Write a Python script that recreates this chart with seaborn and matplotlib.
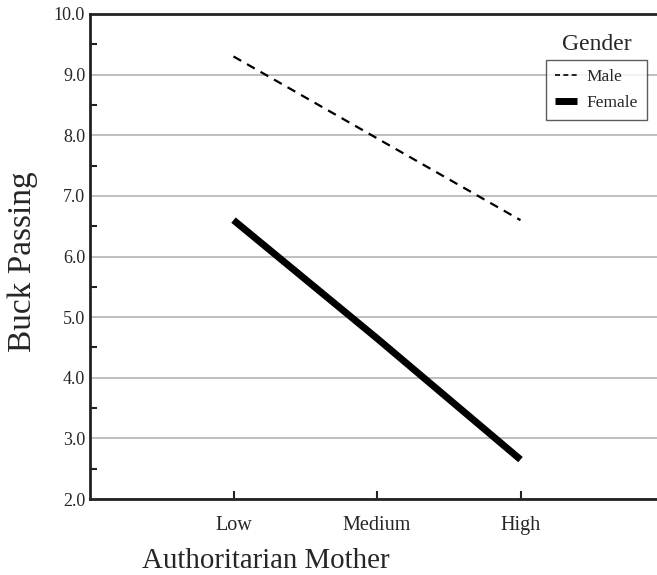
import matplotlib
matplotlib.use("Agg")
import matplotlib.pyplot as plt
import seaborn as sns
import pandas as pd
from matplotlib.ticker import MultipleLocator
from matplotlib.lines import Line2D

# Data: mean buck passing by mother's authoritarianism level and gender
levels = ["Low", "Medium", "High"]
male = [9.3, 7.95, 6.6]
female = [6.6, 4.65, 2.65]
y_ticks = [2.0, 3.0, 4.0, 5.0, 6.0, 7.0, 8.0, 9.0, 10.0]

df = pd.DataFrame({
    "level": list(range(len(levels))) * 2,
    "value": male + female,
    "Gender": ["Male"] * len(levels) + ["Female"] * len(levels),
})

sns.set_style("white")
plt.rcParams["font.family"] = ["Liberation Serif", "DejaVu Serif"]

fig = plt.figure(figsize=(6.57, 5.75), dpi=100)
ax = fig.add_axes([90 / 657, 1 - 499 / 575, (664 - 90) / 657, (499 - 14) / 575])

sns.lineplot(
    data=df, x="level", y="value", hue="Gender", style="Gender",
    palette={"Male": "black", "Female": "black"},
    dashes={"Male": (4, 3), "Female": ""},
    size="Gender", sizes={"Male": 1.6, "Female": 5.0},
    legend=False, ax=ax,
)
for line in ax.get_lines():
    line.set_solid_capstyle("butt")
    line.set_dash_capstyle("butt")

ax.set_xlim(-1, 3)
ax.set_ylim(2, 10)
ax.set_xticks(range(len(levels)))
ax.set_xticklabels(levels, fontsize=14.5)
ax.set_yticks(y_ticks)
ax.set_yticklabels([f"{v:.1f}" for v in y_ticks], fontsize=13)
ax.yaxis.set_minor_locator(MultipleLocator(0.5))

ax.grid(axis="y", which="major", color="#b4b4b4", linewidth=1.2, zorder=0)
ax.set_axisbelow(True)

ax.tick_params(axis="y", which="major", direction="in", length=0, pad=3.5)
ax.tick_params(axis="y", which="minor", direction="in", length=5, width=1.5, color="#222222", left=True)
ax.tick_params(axis="x", which="major", direction="in", length=6, width=1.5, color="#222222", bottom=True, pad=12.5)

for side in ["left", "bottom", "top"]:
    ax.spines[side].set_visible(True)
    ax.spines[side].set_color("#222222")
    ax.spines[side].set_linewidth(2)
ax.spines["right"].set_visible(False)

ax.set_ylabel("Buck Passing", fontsize=24, va="center")
ax.yaxis.set_label_coords((23 - 90) / 574, 0.49)
ax.set_xlabel("Authoritarian Mother", fontsize=20.8, va="center")
ax.xaxis.set_label_coords((266 - 90) / 574, -(561 - 499) / 485)

# Legend drawn with its title above the frame
handles = [
    Line2D([], [], color="black", linewidth=1.2, dashes=(3, 2)),
    Line2D([], [], color="black", linewidth=5, solid_capstyle="butt"),
]
leg = ax.legend(
    handles, ["Male", "Female"], loc="upper left",
    bbox_to_anchor=((546 - 90) / 574, (499 - 60) / 485),
    frameon=True, fancybox=False, edgecolor="#333333", fontsize=12.5,
    handlelength=1.3, borderpad=0.5, labelspacing=0.6, handletextpad=0.55,
    borderaxespad=0,
)
leg.get_frame().set_linewidth(1.0)
ax.text((597 - 90) / 574, (499 - 44) / 485, "Gender", transform=ax.transAxes,
        ha="center", va="center", fontsize=17)

fig.savefig("out.png", dpi=100)
